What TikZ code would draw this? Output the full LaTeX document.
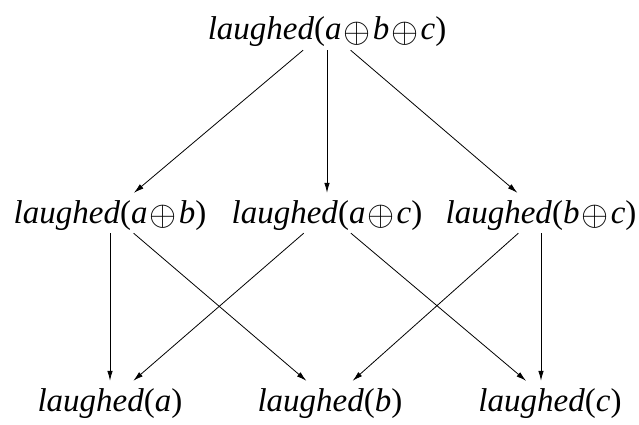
\documentclass[tikz,border=0pt]{standalone}
\usepackage{fontspec}
\setmainfont{Liberation Serif}
\usepackage{graphicx}
\usetikzlibrary{arrows.meta}
\newcommand{\op}{\ensuremath{\mskip1.5mu\vcenter{\hbox{\scalebox{1.4}{$\oplus$}}}\mskip1.5mu}}
\newcommand{\laughed}[1]{\textit{laughed}\textup{(}\textit{#1}\textup{)}}
\begin{document}
\begin{tikzpicture}[x=1pt, y=1pt,
  lab/.style={anchor=base, inner sep=2pt, text height=28pt, text depth=8pt,
    font=\fontsize{33}{40}\selectfont},
  arr/.style={-{Latex[length=10pt, width=5.5pt]}, line width=0.8pt}]
	\useasboundingbox (0, 0) rectangle (639, 424);

	\node (abc) [lab] at (327, 384) {\laughed{a\op b\op c}};

	\node (ab) [lab] at (110, 201) {\laughed{a\op b}};
	\node (ac) [lab] at (327, 201) {\laughed{a\op c}};
	\node (bc) [lab] at (541, 201) {\laughed{b\op c}};

	\node (a) [lab] at (110, 13) {\laughed{a}};
	\node (b) [lab] at (330, 13) {\laughed{b}};
	\node (c) [lab] at (550, 13) {\laughed{c}};

	\path[arr]
	(abc) edge (ab)
	(abc) edge (ac)
	(abc) edge (bc)
	(ab) edge (a)
	(ab) edge (b)
	(ac) edge (a)
	(ac) edge (c)
	(bc) edge (b)
	(bc.south) edge (bc.south |- c.north);

\end{tikzpicture}
\end{document}
